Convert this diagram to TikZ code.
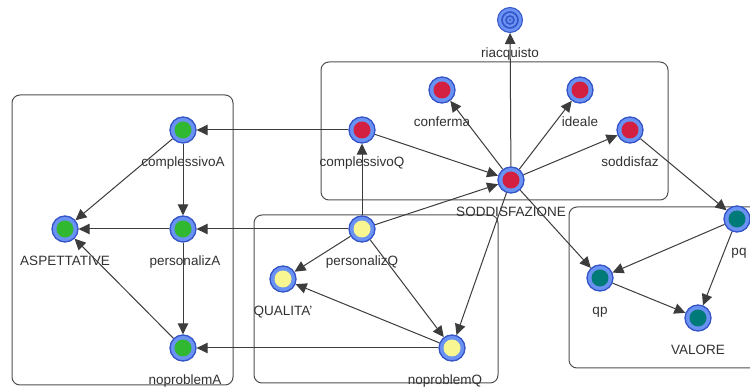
\documentclass[tikz,border=0pt]{standalone}
\usepackage{fontspec}
\setmainfont{Liberation Sans}
\usetikzlibrary{arrows.meta}
\definecolor{ringblue}{RGB}{106,146,242}
\definecolor{ringdark}{RGB}{52,84,200}
\definecolor{cred}{RGB}{212,32,64}
\definecolor{cgreen}{RGB}{48,184,48}
\definecolor{cyellow}{RGB}{248,246,144}
\definecolor{cteal}{RGB}{0,122,120}
\definecolor{boxgray}{RGB}{80,80,80}
\definecolor{edgegray}{RGB}{60,60,60}
\definecolor{txtgray}{RGB}{50,50,50}
\tikzset{
  vnode/.style={circle, minimum size=26pt, inner sep=0pt, draw=ringdark, line width=1.3pt, fill=ringblue,
    path picture={\fill[#1] (path picture bounding box.center) circle (8.5pt);}},
  lbl/.style={font=\fontsize{13.5}{14}\selectfont, text=txtgray, inner sep=0pt, text height=9.5pt, text depth=2.5pt, yshift=-13pt},
  grp/.style={draw=boxgray, line width=1pt, rounded corners=8pt},
  edge/.style={draw=edgegray, line width=1pt, -{Triangle[length=11pt,width=10.5pt]}},
}
\begin{document}
\begin{tikzpicture}[x=1pt,y=-1pt]
\useasboundingbox (0,0) rectangle (750,387);
\fill[white] (0,0) rectangle (750,387);
% group boxes
\draw[grp] (12,95) rectangle (233,385);
\draw[grp] (321,62) rectangle (668,200);
\draw[grp] (254,215) rectangle (498,383);
\draw[grp] (569,207) rectangle (770,368);
% nodes
\node[circle, minimum size=25pt, inner sep=0pt, draw=ringdark, line width=1pt, fill=ringblue,
  label={[lbl,yshift=-2pt]below:riacquisto},
  path picture={\draw[ringdark,line width=1.6pt] (path picture bounding box.center) circle (8pt);
                \draw[ringdark,line width=1.6pt] (path picture bounding box.center) circle (4pt);
                \fill[ringdark!70!ringblue] (path picture bounding box.center) circle (1.5pt);}]
  (riac) at (510,20) {};
\node[vnode=cred, label={[lbl]below:conferma}] (conf) at (442,90) {};
\node[vnode=cred, label={[lbl]below:ideale}] (ideal) at (580,90) {};
\node[vnode=cred, label={[lbl]below:complessivoQ}] (compQ) at (362,130) {};
\node[vnode=cred, label={[lbl]below:soddisfaz}] (sodd) at (630,130) {};
\node[vnode=cred, label={[lbl]below:SODDISFAZIONE}] (SODD) at (511,180) {};
\node[vnode=cgreen, label={[lbl]below:complessivoA}] (compA) at (183,130) {};
\node[vnode=cgreen, label={[lbl]below:ASPETTATIVE}] (ASP) at (65,229) {};
\node[vnode=cgreen, label={[lbl,xshift=2pt]below:personalizA}] (persA) at (183,229) {};
\node[vnode=cgreen, label={[lbl,xshift=2pt]below:noproblemA}] (noprA) at (183,348) {};
\node[vnode=cyellow, label={[lbl]below:personalizQ}] (persQ) at (362,229) {};
\node[vnode=cyellow, label={[lbl]below:QUALITA'}] (QUAL) at (283,279) {};
\node[vnode=cyellow, label={[lbl,xshift=-7pt]below:noproblemQ}] (noprQ) at (452,348) {};
\node[vnode=cteal, label={[lbl,xshift=2pt]below:pq}] (pq) at (737,219) {};
\node[vnode=cteal, label={[lbl]below:qp}] (qp) at (600,278) {};
\node[vnode=cteal, label={[lbl]below:VALORE}] (VAL) at (698,318) {};
% edges
\draw[edge] (compQ) -- (compA);
\draw[edge] (persQ) -- (persA);
\draw[edge] (noprQ) -- (noprA);
\draw[edge] (compA) -- (ASP);
\draw[edge] (compA) -- (persA);
\draw[edge] (persA) -- (ASP);
\draw[edge] (persA) -- (noprA);
\draw[edge] (noprA) -- (ASP);
\draw[edge] (persQ) -- (compQ);
\draw[edge] (compQ) -- (SODD);
\draw[edge] (persQ) -- (SODD);
\draw[edge] (SODD) -- (riac);
\draw[edge] (SODD) -- (conf);
\draw[edge] (SODD) -- (ideal);
\draw[edge] (SODD) -- (sodd);
\draw[edge] (SODD) -- (noprQ);
\draw[edge] (SODD) -- (qp);
\draw[edge] (sodd) -- (pq);
\draw[edge] (pq) -- (qp);
\draw[edge] (pq) -- (VAL);
\draw[edge] (qp) -- (VAL);
\draw[edge] (persQ) -- (QUAL);
\draw[edge] (persQ) -- (noprQ);
\draw[edge] (noprQ) -- (QUAL);
\end{tikzpicture}
\end{document}
